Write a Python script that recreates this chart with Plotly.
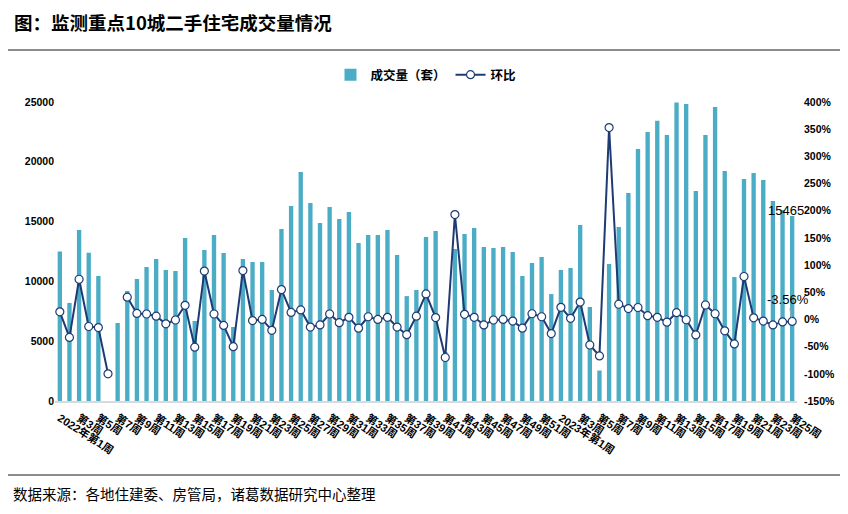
import plotly.graph_objects as go

# ---------------- data ----------------
weeks = [f"2022年第{i}周" for i in range(1, 53)] + [f"2023年第{i}周" for i in range(1, 26)]

volume = [12500, 8200, 14300, 12400, 10450, 0, 6520, 9200, 10200, 11200,
          11870, 10950, 10870, 13630, 6690, 12620, 13880, 12370, 6190, 11870,
          11620, 11620, 9280, 14380, 16300, 19140, 16550, 14880, 16220, 15220,
          15800, 13210, 13880, 13880, 14300, 12200, 8770, 9280, 13710, 14210,
          4100, 12700, 13960, 14460, 12870, 12790, 12870, 12460, 10450, 11540,
          12040, 8940, 10950, 11120, 14710, 7860, 2550, 11450, 14550, 17390,
          21070, 22490, 23430, 22240, 24950, 24830, 17560, 22240, 24580, 19230,
          10370, 18560, 19060, 18480, 16720, 15970, 15465]

mom_pct = [14, -33, 74, -13, -15, -100, None, 41, 11, 10,
           6, -8, -1, 26, -51, 89, 10, -11, -50, 90,
           -2, 0, -20, 55, 13, 17.5, -14, -10, 10, -6,
           4, -16, 5, 0, 4, -14, -28, 6, 47, 3.5,
           -70, 193, 9.5, 4, -10, -1, 0, -3, -16, 10.5,
           5, -26, 22.4, 2, 32, -47, -67, 353, 28, 20,
           22, 7, 4, -5, 12.5, -0.5, -28.5, 26.6, 10.5, -21,
           -45, 79, 3, -3, -10, -4.5, -3.56]

tick_vals = weeks[::2]
tick_text = ["2022年第1周"] + [f"第{i}周" for i in range(3, 52, 2)] + \
            ["2023年第1周"] + [f"第{i}周" for i in range(3, 26, 2)]

left_ticks = [0, 5000, 10000, 15000, 20000, 25000]
left_text = ["0", "5000", "10000", "15000", "20000", "25000"]
right_ticks = [-150, -100, -50, 0, 50, 100, 150, 200, 250, 300, 350, 400]
right_text = ["-150%", "-100%", "-50%", "0%", "50%", "100%", "150%", "200%",
              "250%", "300%", "350%", "400%"]

title_text = "图：监测重点10城二手住宅成交量情况"
source_text = "数据来源：各地住建委、房管局，诸葛数据研究中心整理"

BAR_COLOR = "#4BACC6"
LINE_COLOR = "#1F3B73"
FONT = "Arial, 'Noto Sans CJK SC', sans-serif"

fig = go.Figure()
fig.add_trace(go.Bar(
    x=weeks, y=volume, name="成交量（套）",
    marker=dict(color=BAR_COLOR, line=dict(width=0)),
    yaxis="y",
))
fig.add_trace(go.Scatter(
    x=weeks, y=mom_pct, name="环比", mode="lines+markers",
    line=dict(color=LINE_COLOR, width=2),
    marker=dict(symbol="circle", size=8, color="white",
                line=dict(color=LINE_COLOR, width=1.2)),
    connectgaps=False, yaxis="y2",
))

# data labels on last point
fig.add_annotation(x=weeks[-1], y=volume[-1], xref="x", yref="y",
                   text=str(volume[-1]), showarrow=False, yanchor="bottom",
                   yshift=-4, xshift=-6,
                   font=dict(size=13, color="black", family=FONT))
fig.add_annotation(x=weeks[-1], y=mom_pct[-1], xref="x", yref="y2",
                   text=f"{mom_pct[-1]}%", showarrow=True, arrowhead=0,
                   arrowcolor="#a6a6a6", arrowwidth=1, ax=-4, ay=-22,
                   standoff=4, font=dict(size=13, color="black", family=FONT))

# title, source and separators
fig.add_annotation(text=title_text, xref="paper", yref="paper",
                   x=-0.058, y=1.2676, xanchor="left", yanchor="middle",
                   showarrow=False,
                   font=dict(size=18.5, color="black",
                             family="'Noto Sans CJK SC', sans-serif",
                             weight="bold"))
fig.add_annotation(text=source_text, xref="paper", yref="paper",
                   x=-0.0593, y=-0.311, xanchor="left", yanchor="middle",
                   showarrow=False,
                   font=dict(size=14.5, color="black",
                             family="'Noto Sans CJK SC', sans-serif"))
fig.add_shape(type="line", xref="paper", yref="paper",
              x0=-0.0633, x1=1.0647, y0=1.174, y1=1.174,
              line=dict(color="#8c8c8c", width=2))
fig.add_shape(type="line", xref="paper", yref="paper",
              x0=-0.0633, x1=1.0647, y0=-0.2475, y1=-0.2475,
              line=dict(color="#8c8c8c", width=2))

fig.update_layout(
    width=840, height=506,
    margin=dict(l=47, r=51, t=94, b=113, autoexpand=False),
    paper_bgcolor="white", plot_bgcolor="white",
    bargap=0.55,
    font=dict(family=FONT, color="black"),
    showlegend=True,
    legend=dict(orientation="h", x=0.5, xanchor="center", y=1.090,
                yanchor="middle", font=dict(size=12.5, weight="bold"),
                itemwidth=30, bgcolor="rgba(0,0,0,0)"),
    xaxis=dict(type="category", range=[-0.5, len(weeks) - 0.5],
               tickmode="array", tickvals=tick_vals, ticktext=tick_text,
               tickangle=33, showgrid=False, showline=True, automargin=False,
               linecolor="#d9d9d9", linewidth=1.5, ticks="",
               ticklabelstandoff=5,
               tickfont=dict(size=11, weight="bold", family=FONT)),
    yaxis=dict(range=[0, 25000], tickmode="array", tickvals=left_ticks,
               ticktext=left_text, automargin=False,
               showgrid=False, zeroline=False, showline=False, ticks="",
               tickfont=dict(size=10.5, weight="bold", family=FONT)),
    yaxis2=dict(range=[-150, 400], tickmode="array", tickvals=right_ticks,
                ticktext=right_text, overlaying="y", side="right",
                automargin=False,
                showgrid=False, zeroline=False, showline=False, ticks="",
                ticklabelstandoff=6,
                tickfont=dict(size=10.5, weight="bold", family=FONT)),
)

fig.write_html("out.html")
